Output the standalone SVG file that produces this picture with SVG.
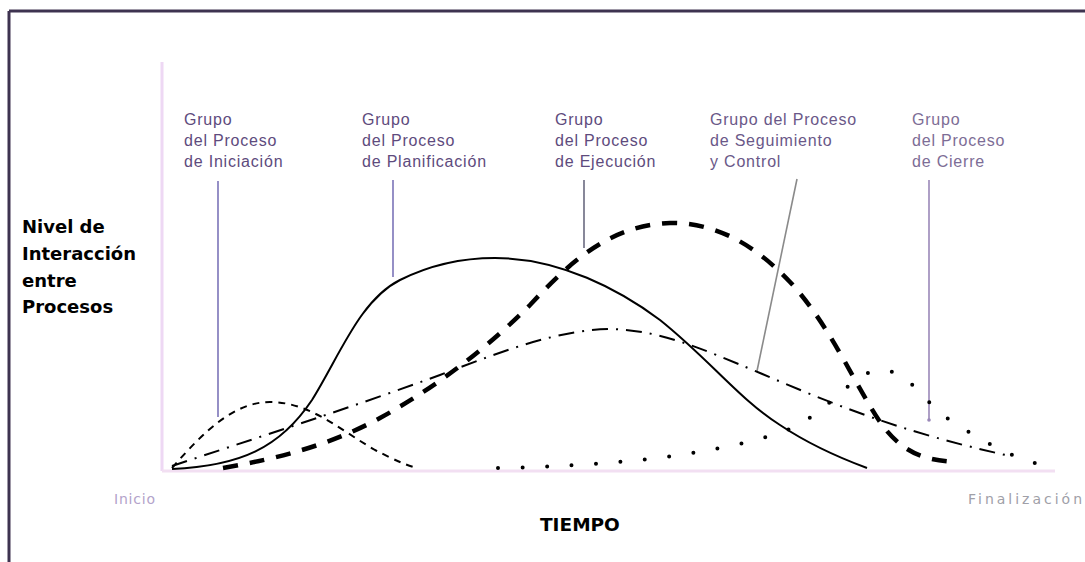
<svg xmlns="http://www.w3.org/2000/svg" width="1085" height="562" viewBox="0 0 1085 562">
<style>
.lbl{font-family:"Liberation Sans",Arial,sans-serif;font-size:16px;letter-spacing:0.8px;fill:#5e4b7d}
.bold{font-family:"DejaVu Sans","Liberation Sans",sans-serif;font-weight:bold;font-size:18px;fill:#000}
.ax{font-family:"DejaVu Sans","Liberation Sans",sans-serif;font-size:14px}
.lead{fill:none;stroke-width:1.6}
.crv{fill:none;stroke:#000}
</style>
<rect width="1085" height="562" fill="#fff"/>
<g id="frame">
<line x1="9" y1="11" x2="1085" y2="11" stroke="#3e3350" stroke-width="3"/>
<line x1="9" y1="11" x2="9" y2="562" stroke="#3e3350" stroke-width="3"/>
</g>
<g id="axes">
<line x1="162" y1="62" x2="162" y2="471" stroke="#eed8f4" stroke-width="3"/>
<line x1="162" y1="471" x2="1055" y2="471" stroke="#f2dff2" stroke-width="3"/>
</g>
<g id="y-title">
<text class="bold"><tspan x="22" y="233">Nivel de</tspan><tspan x="22" y="260">Interacción</tspan><tspan x="22" y="287">entre</tspan><tspan x="22" y="313">Procesos</tspan></text>
</g>
<g id="x-labels">
<text class="ax" x="114" y="504" fill="#b3a3ca" textLength="41">Inicio</text>
<text class="ax" x="968" y="504" fill="#a0a0a8" textLength="114">Finalización</text>
<text class="bold" x="540" y="531" style="font-size:18.5px">TIEMPO</text>
</g>
<g id="grp-iniciacion">
<text class="lbl"><tspan x="184" y="125">Grupo</tspan><tspan x="184" y="146">del Proceso</tspan><tspan x="184" y="167">de Iniciación</tspan></text>
</g>
<g id="grp-planificacion">
<text class="lbl"><tspan x="362" y="125">Grupo</tspan><tspan x="362" y="146">del Proceso</tspan><tspan x="362" y="167">de Planificación</tspan></text>
</g>
<g id="grp-ejecucion">
<text class="lbl"><tspan x="555" y="125">Grupo</tspan><tspan x="555" y="146">del Proceso</tspan><tspan x="555" y="167">de Ejecución</tspan></text>
</g>
<g id="grp-seguimiento">
<text class="lbl" style="fill:#6a5888"><tspan x="710" y="125">Grupo del Proceso</tspan><tspan x="710" y="146">de Seguimiento</tspan><tspan x="710" y="167">y Control</tspan></text>
</g>
<g id="grp-cierre">
<text class="lbl" style="fill:#7d6d96"><tspan x="912" y="125">Grupo</tspan><tspan x="912" y="146">del Proceso</tspan><tspan x="912" y="167">de Cierre</tspan></text>
</g>
<g id="connectors">
<line class="lead" x1="218" y1="181" x2="218" y2="417" stroke="#7b74b8"/>
<line class="lead" x1="393" y1="180" x2="393" y2="277" stroke="#7b74b8"/>
<line class="lead" x1="584" y1="180" x2="584" y2="248" stroke="#6a6a80"/>
<line class="lead" x1="797" y1="179" x2="757" y2="371" stroke="#8a8a8a" stroke-width="1"/>
<line class="lead" x1="929" y1="180" x2="929" y2="419" stroke="#9a88b8"/>
<circle cx="929" cy="420" r="1.8" fill="#9a88b8"/>
</g>
<g id="curves">
<path id="c-iniciacion" class="crv" stroke-width="2" stroke-dasharray="7 6" d="M172,468 C205,430 235,402 270,402 C310,402 340,430 375,450 C395,460 405,465 417,468"/>
<path id="c-planificacion" class="crv" stroke-width="2" d="M172,469 C240,466 280,448 312,400 C340,355 360,300 400,280 C430,265 460,258 495,258 C560,258 620,290 660,320 C710,360 740,400 780,425 C810,445 840,458 867,468"/>
<path id="c-seguimiento" class="crv" stroke-width="2" stroke-dasharray="16 8 2 8" d="M172,466 C250,440 350,408 440,375 C510,348 560,330 610,329 C660,330 700,348 760,373 C830,403 900,432 1010,456"/>
<path id="c-ejecucion" class="crv" stroke-width="4.5" stroke-dasharray="15 12" d="M223,468 C280,458 330,445 380,418 C440,385 490,345 530,305 C570,262 610,225 670,223 C720,222 760,250 790,282 C830,325 855,385 880,422 C900,450 920,460 955,462"/>
<path id="c-cierre" class="crv" stroke-width="4" stroke-linecap="round" stroke-dasharray="0 24.5" d="M498,468 C600,466 700,458 780,433 C830,415 850,372 880,370 C910,370 920,400 950,420 C980,440 1010,456 1035,463"/>
</g>
</svg>
